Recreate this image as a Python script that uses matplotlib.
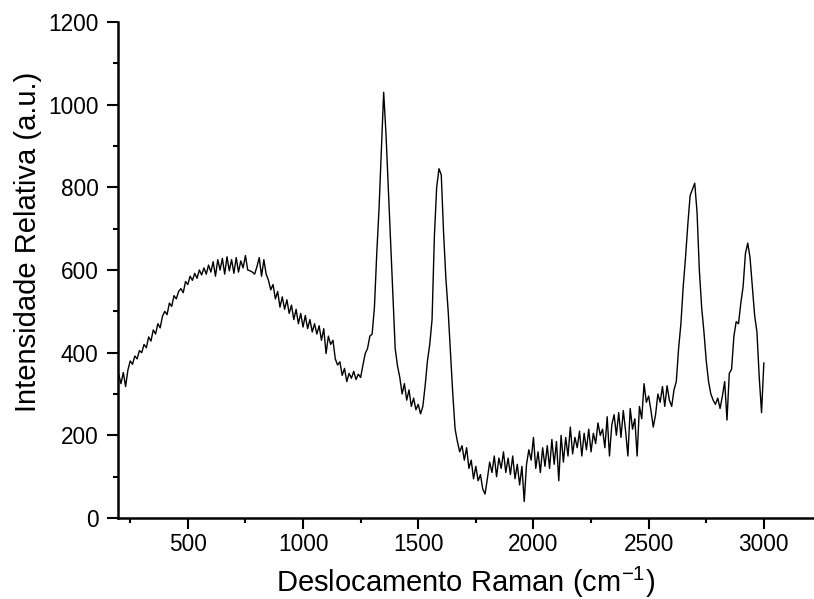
import matplotlib
matplotlib.use("Agg")
import matplotlib.pyplot as plt
from matplotlib.ticker import MultipleLocator

plt.rcParams['font.family'] = ['Liberation Sans', 'DejaVu Sans']
plt.rcParams['mathtext.fontset'] = 'custom'
plt.rcParams['mathtext.rm'] = 'Liberation Sans'
plt.rcParams['mathtext.it'] = 'Liberation Sans:italic'

# Raman shift (cm^-1), 200..3000 step 10
raman_shift = list(range(200, 3001, 10))

intensity = [
    # 200-290
    348, 325, 352, 318, 358, 380, 372, 392, 385, 405,
    # 300-390
    400, 420, 412, 438, 428, 455, 445, 470, 460, 488,
    # 400-490
    500, 492, 520, 512, 538, 530, 548, 555, 545, 572,
    # 500-590
    565, 585, 575, 592, 580, 600, 588, 605, 590, 612,
    # 600-690
    595, 620, 585, 625, 600, 628, 590, 632, 598, 625,
    # 700-790
    592, 630, 595, 622, 605, 635, 600, 598, 595, 590,
    # 800-890
    608, 630, 585, 625, 590, 575, 552, 565, 530, 548,
    # 900-990
    510, 535, 505, 528, 495, 515, 480, 505, 470, 495,
    # 1000-1090
    462, 490, 458, 480, 450, 470, 445, 465, 430, 458,
    # 1100-1190
    398, 440, 420, 430, 385, 370, 378, 345, 362, 330,
    # 1200-1290
    350, 338, 355, 335, 348, 340, 370, 398, 410, 440,
    # 1300-1390
    445, 511, 640, 750, 890, 1030, 930, 800, 670, 540,
    # 1400-1490
    410, 368, 340, 300, 325, 285, 310, 270, 290, 262,
    # 1500-1590
    275, 252, 270, 320, 380, 420, 480, 680, 800, 845,
    # 1600-1690
    830, 690, 580, 500, 400, 300, 215, 185, 160, 175,
    # 1700-1790
    140, 170, 120, 140, 95, 125, 90, 105, 70, 58,
    # 1800-1890
    95, 135, 110, 150, 100, 145, 120, 160, 110, 145,
    # 1900-1990
    105, 150, 95, 130, 80, 125, 40, 130, 165, 140,
    # 2000-2090
    195, 120, 160, 110, 170, 125, 175, 120, 190, 130,
    # 2100-2190
    185, 90, 200, 135, 195, 150, 220, 155, 195, 170,
    # 2200-2290
    210, 150, 205, 165, 215, 160, 205, 180, 230, 200,
    # 2300-2390
    215, 170, 245, 150, 225, 250, 200, 255, 195, 260,
    # 2400-2490
    210, 150, 265, 215, 240, 150, 270, 240, 325, 280,
    # 2500-2590
    295, 260, 220, 250, 300, 280, 318, 270, 320, 285,
    # 2600-2690
    270, 310, 330, 410, 470, 560, 630, 710, 780, 795,
    # 2700-2790
    810, 740, 600, 510, 450, 380, 330, 300, 285, 275,
    # 2800-2890
    290, 265, 295, 330, 237, 350, 360, 440, 475, 470,
    # 2900-2990
    520, 560, 640, 665, 630, 560, 490, 450, 340, 255,
    # 3000
    375,
]

x_major_ticks = [500, 1000, 1500, 2000, 2500, 3000]
y_major_ticks = [0, 200, 400, 600, 800, 1000, 1200]

fig = plt.figure(figsize=(8.14, 5.99), dpi=100)
ax = fig.add_axes([118 / 814, 81 / 599, 700 / 814, 496 / 599])

ax.plot(raman_shift, intensity, color='black', linewidth=1.0)

ax.set_xlim(197, 3235)
ax.set_ylim(0, 1200)
ax.set_xticks(x_major_ticks)
ax.set_yticks(y_major_ticks)
ax.xaxis.set_minor_locator(MultipleLocator(250))
ax.yaxis.set_minor_locator(MultipleLocator(100))

for s in ['top', 'right']:
    ax.spines[s].set_visible(False)
for s in ['left', 'bottom']:
    ax.spines[s].set_linewidth(1.8)

ax.tick_params(which='major', direction='out', length=8, width=1.5,
               labelsize=16.3, pad=3)
ax.tick_params(which='minor', direction='out', length=3.8, width=1.5)
ax.tick_params(axis='y', which='major', pad=6)

ax.set_xlabel('Deslocamento Raman (cm$^{-1}$)', fontsize=21)
ax.set_ylabel('Intensidade Relativa (a.u.)', fontsize=21)
ax.xaxis.set_label_coords(0.497, -0.094)
ax.yaxis.set_label_coords(-0.108, 0.557)
ax.xaxis.label.set_va('top')

fig.savefig('out.png', dpi=100)
